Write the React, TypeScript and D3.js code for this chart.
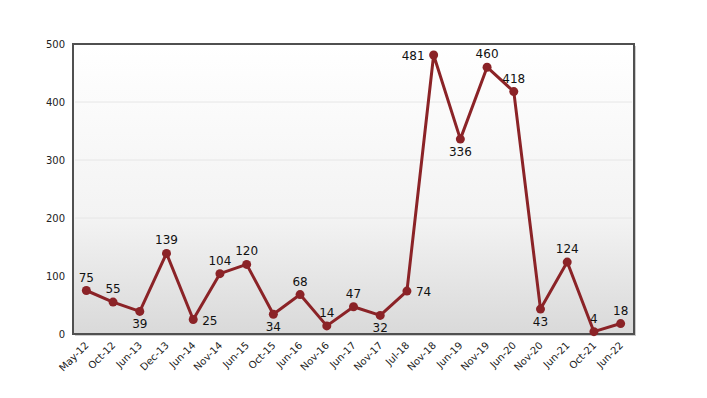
import React from "react";
import * as d3 from "d3";

const categories = ["May-12","Oct-12","Jun-13","Dec-13","Jun-14","Nov-14","Jun-15","Oct-15","Jun-16","Nov-16","Jun-17","Nov-17","Jul-18","Nov-18","Jun-19","Nov-19","Jun-20","Nov-20","Jun-21","Oct-21","Jun-22"];
const values = [75,55,39,139,25,104,120,34,68,14,47,32,74,481,336,460,418,43,124,4,18];
const labelPos = ["above","above","below","above","right","above","above","below","above","above","above","below","right","left","below","above","above","below","above","above","above"];
const yTicks = [0,100,200,300,400,500];

const W = 707, H = 398;
const L = 73, R = 634, T = 44, B = 334;

export default function App() {
  const x = d3.scalePoint<string>().domain(categories).range([L, R]).padding(0.5);
  const y = d3.scaleLinear().domain([0, 500]).range([B, T]);
  const line = d3.line<number>().x((_, i) => x(categories[i])!).y(d => y(d));
  const font = "Verdana, 'DejaVu Sans', sans-serif";
  return (
    <svg width={W} height={H} style={{ position: "absolute", left: 0, top: 0 }}>
      <defs>
        <linearGradient id="bg" x1="0" y1="0" x2="0" y2="1">
          <stop offset="0" stopColor="#ffffff" />
          <stop offset="0.6" stopColor="#f3f3f3" />
          <stop offset="1" stopColor="#d9d9d9" />
        </linearGradient>
      </defs>
      <rect x={0} y={0} width={W} height={H} fill="#fff" />
      <rect x={L + 2} y={T + 2} width={R - L} height={B - T} fill="#999" opacity={0.5} />
      <rect x={L} y={T} width={R - L} height={B - T} fill="url(#bg)" />
      {yTicks.filter(t => t > 0 && t < 500).map(t => (
        <line key={t} x1={L + 2} x2={R - 2} y1={y(t)} y2={y(t)} stroke="#e6e6e6" strokeWidth={1} />
      ))}
      <rect x={L} y={T} width={R - L} height={B - T} fill="none" stroke="#505050" strokeWidth={2} />
      {yTicks.map(t => (
        <text key={t} x={L - 8} y={y(t) + 4} textAnchor="end" fontFamily={font} fontSize={10} fill="#222">{t}</text>
      ))}
      {categories.map(c => (
        <text key={c} transform={`translate(${x(c)! + 3},${B + 12}) rotate(-45)`} textAnchor="end" fontFamily={font} fontSize={10} fill="#222">{c}</text>
      ))}
      <path d={line(values)!} fill="none" stroke="#8b2327" strokeWidth={3} strokeLinejoin="round" />
      {values.map((v, i) => (
        <circle key={i} cx={x(categories[i])!} cy={y(v)} r={4.5} fill="#8b2327" />
      ))}
      {values.map((v, i) => {
        const cx = x(categories[i])!, cy = y(v);
        const p = labelPos[i];
        let tx = cx, ty = cy - 9, anchor = "middle";
        if (p === "below") ty = cy + 17;
        if (p === "right") { tx = cx + 9; ty = cy + 5; anchor = "start"; }
        if (p === "left") { tx = cx - 9; ty = cy + 5; anchor = "end"; }
        return <text key={i} x={tx} y={ty} textAnchor={anchor} fontFamily={font} fontSize={12} fill="#111">{v}</text>;
      })}
    </svg>
  );
}
